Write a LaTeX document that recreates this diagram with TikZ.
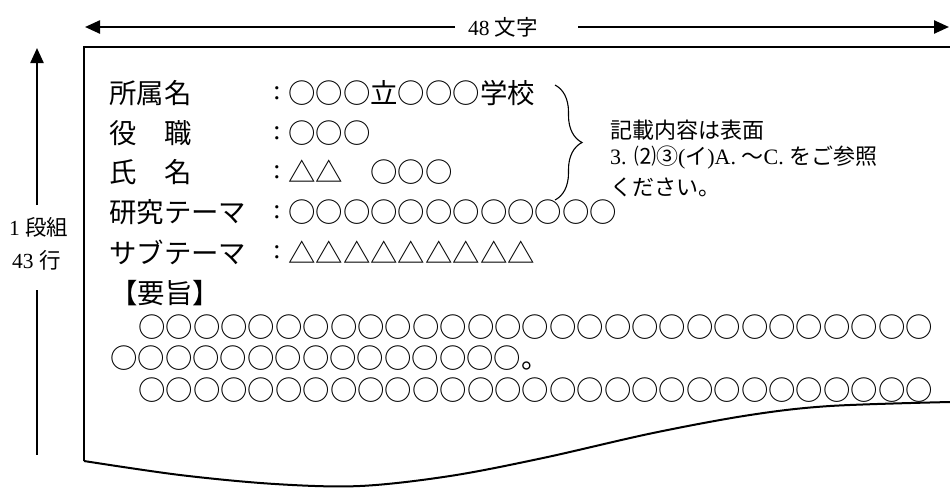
\documentclass[tikz,border=0pt]{standalone}
\usepackage{fontspec}
\setmainfont{Liberation Serif}
\newfontfamily\jp{Noto Sans CJK JP}
\usetikzlibrary{arrows.meta,decorations.pathreplacing}
\begin{document}
\begin{tikzpicture}[x=1pt,y=-1pt,
  big/.style={font=\jp\fontsize{27.4}{30}\selectfont, inner sep=0pt, anchor=west},
  colon/.style={font=\fontsize{27.4}{30}\selectfont, inner sep=0pt, anchor=center},
  lbl/.style={font=\fontsize{21.5}{24}\selectfont, inner sep=0pt, anchor=west},
  note/.style={font=\fontsize{22}{26}\selectfont, inner sep=0pt, anchor=west},
  dim/.style={line width=2.4pt, -{Triangle[length=15pt,width=13pt]}},
  dimline/.style={line width=2.4pt},
  frame/.style={line width=2pt, line join=miter},
  bracestyle/.style={line width=1.1pt, decorate, decoration={brace, amplitude=27pt, aspect=0.5}}]
\useasboundingbox (0,0) rectangle (950,488);

% top dimension
\node[lbl, anchor=center] (t48) at (503,27) {48 {\jp 文字}};
\coordinate (hl) at (85,27);
\coordinate (hla) at (455,27);
\coordinate (hra) at (578,27);
\coordinate (hr) at (949,27);
\draw[dim] (hla) -- (hl);
\draw[dim] (hra) -- (hr);

% left dimension
\node[lbl] (v1) at (9,227) {1 {\jp 段組}};
\node[lbl] (v2) at (12,260) {43 {\jp 行}};
\coordinate (vt) at (37,48);
\coordinate (va) at (37,205);
\coordinate (vc) at (37,290);
\coordinate (vb) at (37,455);
\draw[dim] (va) -- (vt);
\draw[dimline] (vc) -- (vb);

% page frame
\coordinate (ftr) at (950,47);
\coordinate (ftl) at (84,47);
\coordinate (fbl) at (84,461);
\draw[frame] (ftr) -- (ftl) -- (fbl);
\draw[frame] plot[smooth, tension=0.55] coordinates {(84,461) (180,475) (275,484) (360,486) (450,476) (543,458) (653,433) (750,415) (830,406) (950,402)};

% header
\node[big] (l1) at (109,93) {所属名};
\node[big] (l2) at (109,133) {役　職};
\node[big] (l3) at (109,172) {氏　名};
\node[big] (l4) at (109,212) {研究テーマ};
\node[big] (l5) at (109,252) {サブテーマ};
\foreach \i/\y in {1/93,2/133,3/172,4/212,5/252}{
  \node[colon] (c\i) at (277,\y) {:};
}
\node[big] (v1x) at (288,93) {○○○立○○○学校};
\node[big] (v2x) at (288,133) {○○○};
\node[big] (v3x) at (288,172) {△△　○○○};
\node[big] (v4x) at (288,212) {○○○○○○○○○○○○};
\node[big] (v5x) at (288,252) {△△△△△△△△△};

% brace and note
\coordinate (bt) at (555,85);
\coordinate (bb) at (555,200);
\draw[bracestyle] (bt) -- (bb);
\node[note] (n1) at (610,130) {\jp 記載内容は表面};
\node[note] (n2) at (610,158) {3. {\jp ⑵③}({\jp イ})A. {\jp ～}C. {\jp をご参照}};
\node[note] (n3) at (610,187) {\jp ください。};

% body
\node[big] (h) at (110,293) {【要旨】};
\node[big] (r1) at (138,327) {○○○○○○○○○○○○○○○○○○○○○○○○○○○○○};
\node[big] (r2) at (110,358) {○○○○○○○○○○○○○○○。};
\node[big] (r3) at (138,390) {○○○○○○○○○○○○○○○○○○○○○○○○○○○○○};
\end{tikzpicture}
\end{document}
